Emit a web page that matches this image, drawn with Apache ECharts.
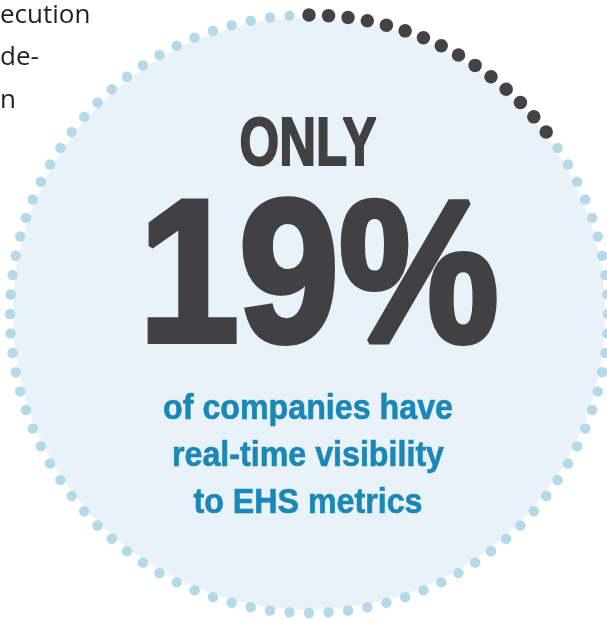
<!DOCTYPE html>
<html>
<head>
<meta charset="utf-8">
<script src="https://cdn.jsdelivr.net/npm/echarts@6/dist/echarts.min.js"></script>
<style>
html,body{margin:0;padding:0;background:#ffffff;}
#chart{width:607px;height:620px;}
</style>
</head>
<body>
<div id="chart"></div>
<script>
// ---- data ----
const percentValue = 19;
const ringDotCount = 96;          // dots around the ring
const highlightedDotCount = 15;   // dark dots (the highlighted share)
const headlineText = 'ONLY';
const bigValueLabel = percentValue + '%';
const captionLines = ['of companies have', 'real-time visibility', 'to EHS metrics'];
const sideTextLines = ['ecution', 'de-', 'n'];

// ---- build ring dot data ----
const darkDots = [];
const lightDots = [];
for (let i = 0; i < ringDotCount; i++) {
  const angle = i * 360 / ringDotCount;
  if (i < highlightedDotCount) darkDots.push([1, angle]);
  else lightDots.push([1, angle]);
}

const chart = echarts.init(document.getElementById('chart'), null, {renderer: 'canvas'});

const graphics = [];
sideTextLines.forEach((t, i) => {
  graphics.push({
    type: 'text', x: 0, y: [16, 58, 101][i], z: 10,
    style: {text: t, fill: '#231f20', font: '26px "Open Sans"', textAlign: 'left', textVerticalAlign: 'middle'}
  });
});
graphics.push({
  type: 'text', x: 308, y: 146, scaleX: 0.75, z: 10,
  style: {text: headlineText, fill: '#414143', font: 'bold 68px "Liberation Sans"', textAlign: 'center', textVerticalAlign: 'middle',
          stroke: '#414143', lineWidth: 2}
});
graphics.push({
  type: 'text', x: 319, y: 285, scaleX: 0.89, z: 10,
  style: {text: bigValueLabel, fill: '#414143', font: 'bold 202px "Liberation Sans"', textAlign: 'center', textVerticalAlign: 'middle',
          stroke: '#414143', lineWidth: 6}
});
captionLines.forEach((t, i) => {
  graphics.push({
    type: 'text', x: 308, y: [409, 456, 503][i], scaleX: 0.92, z: 10,
    style: {text: t, fill: '#1a87b7', font: 'bold 35px "Liberation Sans"', textAlign: 'center', textVerticalAlign: 'middle',
            stroke: '#1a87b7', lineWidth: 0.6}
  });
});

chart.setOption({
  animation: false,
  backgroundColor: '#ffffff',
  polar: {center: [309, 314], radius: 299},
  angleAxis: {type: 'value', min: 0, max: 360, startAngle: 90, clockwise: true, show: false},
  radiusAxis: {type: 'value', min: 0, max: 1, show: false},
  series: [
    {
      type: 'pie', center: [309, 314], radius: [0, 296], silent: true, z: 1,
      label: {show: false}, labelLine: {show: false},
      itemStyle: {color: '#e8f2f8'},
      data: [{value: 1, name: 'circle'}]
    },
    {
      type: 'scatter', coordinateSystem: 'polar', silent: true, z: 3,
      symbol: 'circle', symbolSize: 10.5,
      itemStyle: {color: '#b5d9e9', opacity: 1},
      data: lightDots
    },
    {
      type: 'scatter', coordinateSystem: 'polar', silent: true, z: 4,
      symbol: 'circle', symbolSize: 13.5,
      itemStyle: {color: '#434346', opacity: 1},
      data: darkDots
    }
  ],
  graphic: graphics
});
</script>
</body>
</html>
